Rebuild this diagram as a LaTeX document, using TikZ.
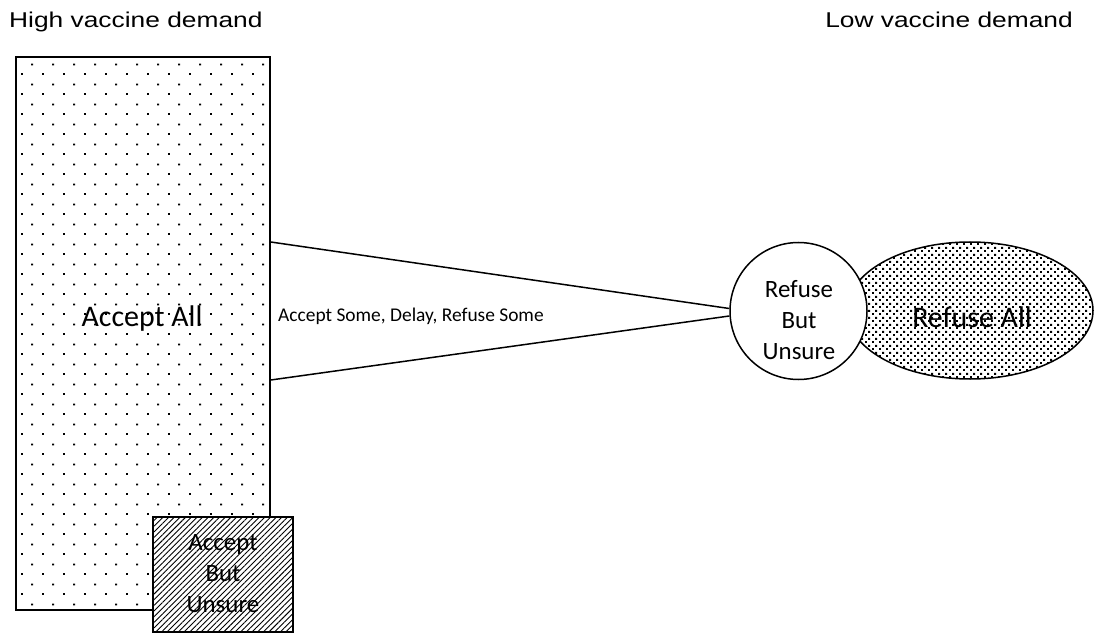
\documentclass[tikz,border=0pt]{standalone}
\usepackage{fontspec}
\setmainfont{Carlito}
\newfontfamily\arialf[FakeStretch=1.23]{Liberation Sans}
\usetikzlibrary{patterns.meta,shapes.geometric}
\pgfdeclarepattern{name=sparsedots,type=uncolored,
  bottom left={\pgfpoint{0bp}{0bp}},top right={\pgfpoint{20.7bp}{20bp}},
  tile size={\pgfpoint{20.7bp}{20bp}},
  code={\pgfpathrectangle{\pgfpoint{0bp}{0bp}}{\pgfpoint{2bp}{2bp}}
        \pgfpathrectangle{\pgfpoint{10.35bp}{10bp}}{\pgfpoint{2bp}{2bp}}
        \pgfusepath{fill}}}
\pgfdeclarepattern{name=densedots,type=uncolored,
  bottom left={\pgfpoint{0bp}{0bp}},top right={\pgfpoint{6.6bp}{6.6bp}},
  tile size={\pgfpoint{6.6bp}{6.6bp}},
  code={\pgfpathrectangle{\pgfpoint{0bp}{0bp}}{\pgfpoint{2bp}{2bp}}
        \pgfpathrectangle{\pgfpoint{3.3bp}{3.3bp}}{\pgfpoint{2bp}{2bp}}
        \pgfusepath{fill}}}
\tikzset{
  shapeline/.style={draw=black,line width=1.5bp,inner sep=0pt},
  header/.style={font=\arialf\fontsize{21.5}{26}\selectfont,anchor=base west,inner sep=0pt},
  biglabel/.style={font=\fontsize{30}{36}\selectfont,inner sep=0pt},
  smalllabel/.style={font=\fontsize{25}{31.3}\selectfont,align=center,inner sep=0pt},
  midlabel/.style={font=\fontsize{19.5}{23}\selectfont,inner sep=0pt,anchor=base west},
  connector/.style={draw=black,line width=1.5bp}
}
\begin{document}
\begin{tikzpicture}[x=1bp,y=-1bp]
\useasboundingbox[fill=white] (0,0) rectangle (1094,635);
% headers
\node[header] (hi) at (9,28) {High vaccine demand};
\node[header,anchor=base east] (lo) at (1073,28) {Low vaccine demand};
% Accept All rectangle
\node[shapeline,rectangle,minimum width=254bp,minimum height=553bp,
      pattern={sparsedots}] (A) at (143,333.5) {};
\node[biglabel,anchor=base] (Alab) at (142,327) {Accept All};
% Accept But Unsure box
\node[shapeline,rectangle,minimum width=140bp,minimum height=115bp,
      preaction={fill=white},pattern={Lines[angle=45,distance=4bp,line width=0.9bp]}] (B) at (223,574.5) {};
\node[smalllabel] (Blab) at (223,573.5) {Accept\\But\\Unsure};
% Refuse All ellipse
\node[shapeline,ellipse,minimum width=246bp,minimum height=137bp,
      pattern={densedots}] (E) at (970,310.5) {};
\node[biglabel,anchor=base] (Elab) at (972,328) {Refuse All};
% Refuse But Unsure circle
\node[shapeline,circle,minimum size=137bp,fill=white] (C) at (798.5,311) {};
\node[smalllabel] (Clab) at (799,320) {Refuse\\But\\Unsure};
% connectors
\coordinate (a1) at (A.east |- 0,242);
\coordinate (a2) at (A.east |- 0,380);
\coordinate (c1) at (C.west |- 0,308.5);
\coordinate (c2) at (C.west |- 0,316);
\draw[connector] (a1) -- (c1);
\draw[connector] (a2) -- (c2);
\node[midlabel] (M) at (278,322) {Accept Some, Delay, Refuse Some};
\end{tikzpicture}
\end{document}
